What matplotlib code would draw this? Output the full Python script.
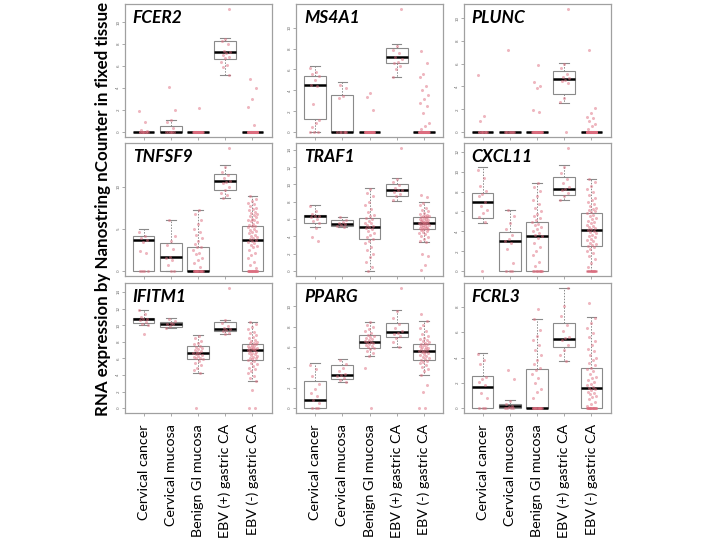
import matplotlib
matplotlib.use('Agg')
import matplotlib.pyplot as plt
import matplotlib.transforms as mtransforms
import numpy as np

categories = ["Cervical cancer", "Cervical mucosa", "Benign GI mucosa",
              "EBV (+) gastric CA", "EBV (-) gastric CA"]
genes = ["FCER2", "MS4A1", "PLUNC", "TNFSF9", "TRAF1", "CXCL11", "IFITM1", "PPARG", "FCRL3"]
ytick_step = [2, 2, 2, 5, 2, 2, 2, 2, 2]

# box stats per group: [whisker low, q1, median, q3, whisker high]
FCER2_box = [[0, 0, 0, 0, 0], [0, 0, 0, 0.58, 1.1], [0, 0, 0, 0, 0],
             [5.23, 6.64, 7.25, 8.26, 8.56], [0, 0, 0, 0, 0]]
FCER2_pts = [
    [1.9, 0.9, 0.2, 0.1] + [0] * 9,
    [4.1, 2.0, 1.1, 0.9, 0.4] + [0] * 6,
    [2.2] + [0] * 30,
    [11.2, 8.5, 8.3, 8.0, 7.4, 7.3, 7.2, 7.0, 6.8, 6.7, 6.4, 6.1, 5.9, 5.2],
    [4.8, 4.0, 3.0, 2.3, 0.6] + [0] * 50,
]
MS4A1_box = [[0, 1.26, 4.47, 5.34, 6.34], [0, 0, 0, 3.56, 4.76], [0, 0, 0, 0, 0],
             [5.24, 6.6, 7.15, 8.03, 8.45], [0, 0, 0, 0, 0]]
MS4A1_pts = [
    [6.1, 5.8, 5.6, 5.4, 5.0, 4.5, 4.4, 2.7, 1.2, 0.9, 0.5, 0, 0, 0],
    [4.5, 4.2, 3.5, 3.3] + [0] * 6,
    [3.7, 3.4, 2.1] + [0] * 30,
    [11.8, 8.2, 7.9, 7.6, 7.2, 7.0, 6.7, 6.6, 6.3, 6.0, 5.3],
    [7.8, 6.6, 5.6, 5.3, 4.4, 4.0, 3.6, 3.2, 2.8, 2.5, 1.8, 0.9, 0.6, 0.3] + [0] * 45,
]
PLUNC_box = [[0, 0, 0, 0, 0], [0, 0, 0, 0, 0], [0, 0, 0, 0, 0],
             [2.58, 3.38, 4.66, 5.34, 6.05], [0, 0, 0, 0, 0]]
PLUNC_pts = [
    [5.0, 1.4, 1.0] + [0] * 10,
    [7.2] + [0] * 9,
    [5.9, 4.4, 4.0, 3.9, 1.9, 1.8] + [0] * 28,
    [10.8, 6.0, 5.6, 5.1, 4.8, 4.7, 4.6, 4.5, 4.3, 3.0, 2.6, 0],
    [7.2, 2.1, 1.7, 1.3, 1.2, 1.0, 0.7, 0.5, 0.3] + [0] * 50,
]
TNFSF9_box = [[0, 0, 3.7, 4.21, 4.96], [0, 0, 1.65, 3.27, 6.02], [0, 0, 0, 2.87, 7.24],
              [8.66, 9.6, 10.63, 11.46, 12.52], [0, 0, 3.66, 5.31, 8.9]]
TNFSF9_pts = [
    [4.6, 4.2, 3.9, 3.7, 3.5, 2.4, 2.1, 0, 0, 0, 0],
    [6.0, 4.1, 3.6, 3.1, 2.6, 1.7, 1.5, 1.3, 0.7, 0, 0],
    [7.2, 6.8, 6.1, 5.6, 5.0, 4.6, 4.3, 3.9, 3.6, 3.2, 2.9, 2.8, 2.5, 2.2, 2.0,
     1.6, 1.3, 0.9, 0.5] + [0] * 14,
    [14.6, 12.3, 11.8, 11.4, 11.0, 10.7, 10.6, 10.4, 10.0, 9.6, 9.3, 9.0, 8.7],
    [8.9, 8.6, 8.3, 8.1, 7.9, 7.7, 7.5, 7.4, 7.2, 7.0, 6.9, 6.8, 6.6, 6.5, 6.4,
     6.2, 6.1, 6.0, 5.9, 5.8, 5.6, 5.5, 5.4, 5.3, 5.2, 5.0, 4.9, 4.7, 4.6, 4.5,
     4.3, 4.2, 4.0, 3.9, 3.8, 3.7, 3.6, 3.5, 3.3, 3.1, 3.0, 2.8, 2.5, 2.2, 1.9,
     1.5, 1.1, 0.7, 0.4] + [0] * 18,
]
TRAF1_box = [[5.04, 5.54, 6.35, 6.5, 7.6], [5.08, 5.23, 5.46, 5.88, 6.23],
             [0, 3.69, 5.12, 6.12, 9.54], [8.12, 8.65, 9.31, 10.08, 10.73],
             [3.38, 4.85, 5.54, 6.19, 7.96]]
TRAF1_pts = [
    [7.5, 6.9, 6.6, 6.4, 6.3, 6.2, 6.0, 5.8, 5.5, 5.0, 3.9, 3.5],
    [6.2, 5.9, 5.7, 5.5, 5.4, 5.3, 5.2, 5.1],
    [9.5, 9.0, 8.6, 8.0, 7.6, 7.2, 6.8, 6.5, 6.3, 6.1, 6.0, 5.8, 5.6, 5.5, 5.3,
     5.2, 5.1, 5.0, 4.8, 4.6, 4.4, 4.2, 3.9, 3.7, 3.5, 3.2, 2.8, 2.4, 2.0, 1.6,
     1.0, 0.5, 0.0],
    [14.2, 10.6, 10.3, 9.9, 9.6, 9.4, 9.3, 9.1, 8.9, 8.6, 8.2],
    [8.8, 8.5, 7.9, 7.6, 7.3, 7.1, 6.9, 6.7, 6.6, 6.5, 6.4, 6.3, 6.3, 6.2, 6.2,
     6.1, 6.0, 6.0, 5.9, 5.9, 5.8, 5.8, 5.7, 5.7, 5.6, 5.6, 5.5, 5.5, 5.5, 5.4,
     5.4, 5.3, 5.3, 5.2, 5.2, 5.1, 5.1, 5.0, 5.0, 4.9, 4.9, 4.8, 4.7, 4.6, 4.5,
     4.4, 4.3, 4.1, 3.9, 3.7, 3.5, 3.4, 2.0, 1.7, 0.7, 0.1],
]
CXCL11_box = [[4.86, 5.37, 6.96, 7.9, 10.44], [0, 0, 3.07, 3.95, 6.11],
              [0, 0, 3.51, 4.97, 8.88], [7.16, 7.64, 8.31, 9.46, 10.7],
              [0, 2.5, 4.16, 5.88, 9.32]]
CXCL11_pts = [
    [10.2, 9.4, 8.6, 8.1, 7.8, 7.6, 7.0, 6.6, 6.2, 5.8, 5.4, 4.9, 0],
    [6.1, 5.5, 4.8, 4.2, 3.6, 3.2, 3.0, 2.8, 2.2, 0.8, 0, 0, 0],
    [8.9, 8.5, 8.1, 7.6, 7.2, 6.8, 6.4, 6.0, 5.7, 5.5, 5.3, 5.1, 4.9, 4.7, 4.6,
     4.4, 4.2, 4.0, 3.8, 3.6, 3.5, 3.3, 2.8, 2.4, 2.0, 1.6, 0.9, 0.5] + [0] * 9,
    [12.4, 10.5, 9.9, 9.3, 8.9, 8.5, 8.3, 8.2, 7.9, 7.6, 7.2],
    [9.3, 9.0, 8.6, 8.3, 8.0, 7.7, 7.4, 7.2, 7.0, 6.8, 6.6, 6.4, 6.3, 6.1, 6.0,
     5.9, 5.8, 5.6, 5.5, 5.3, 5.2, 5.0, 4.9, 4.8, 4.6, 4.5, 4.4, 4.3, 4.2, 4.1,
     4.0, 3.9, 3.8, 3.6, 3.5, 3.4, 3.2, 3.1, 3.0, 2.8, 2.7, 2.6, 2.5, 2.4, 2.2,
     2.0, 1.8, 1.5, 1.2, 0.8, 0.4] + [0] * 12,
]
IFITM1_box = [[10.0, 10.24, 10.72, 10.92, 11.88], [9.64, 9.72, 10.2, 10.36, 10.88],
              [4.2, 5.96, 6.64, 7.44, 8.76], [8.88, 9.28, 9.52, 10.44, 10.68],
              [3.28, 5.76, 7.04, 7.72, 10.4]]
IFITM1_pts = [
    [11.8, 11.3, 11.0, 10.8, 10.7, 10.6, 10.4, 10.2, 10.0, 8.9],
    [10.8, 10.5, 10.3, 10.2, 10.1, 9.9, 9.7],
    [8.7, 8.4, 8.1, 7.9, 7.7, 7.5, 7.4, 7.3, 7.1, 7.0, 6.9, 6.8, 6.7, 6.6, 6.5,
     6.4, 6.3, 6.2, 6.1, 6.0, 5.9, 5.7, 5.5, 5.2, 4.9, 4.6, 4.2, 0.0],
    [14.5, 10.6, 10.3, 9.9, 9.6, 9.5, 9.4, 9.3, 9.1, 8.9],
    [10.4, 10.1, 9.8, 9.5, 9.2, 9.0, 8.8, 8.6, 8.4, 8.2, 8.1, 8.0, 7.9, 7.8, 7.7,
     7.6, 7.5, 7.5, 7.4, 7.3, 7.3, 7.2, 7.1, 7.1, 7.0, 7.0, 6.9, 6.8, 6.7, 6.6,
     6.5, 6.4, 6.3, 6.2, 6.1, 6.0, 5.9, 5.8, 5.7, 5.5, 5.3, 5.1, 4.9, 4.7, 4.5,
     4.2, 3.9, 3.6, 3.3, 2.2, 0.0, 0.0],
]
PPARG_box = [[0, 0, 0.77, 2.65, 4.42], [2.55, 2.9, 3.29, 4.26, 4.8],
             [5.13, 5.9, 6.52, 7.19, 8.42], [5.97, 6.97, 7.42, 8.32, 9.65],
             [3.29, 4.68, 5.58, 6.32, 8.52]]
PPARG_pts = [
    [4.2, 3.8, 3.2, 2.4, 1.9, 1.5, 1.2, 0.8, 0.5, 0, 0, 0],
    [4.7, 4.3, 3.9, 3.6, 3.4, 3.3, 3.2, 3.0, 2.8, 2.6],
    [8.4, 8.2, 8.0, 7.8, 7.6, 7.4, 7.2, 7.1, 7.0, 6.9, 6.8, 6.7, 6.6, 6.5, 6.5,
     6.4, 6.3, 6.2, 6.1, 6.0, 5.9, 5.8, 5.6, 5.4, 5.1, 3.9, 0.0],
    [11.8, 9.5, 8.8, 8.3, 7.9, 7.6, 7.4, 7.3, 7.1, 6.9, 6.5, 6.0],
    [9.2, 8.5, 8.2, 7.9, 7.6, 7.3, 7.1, 6.9, 6.8, 6.7, 6.6, 6.5, 6.4, 6.3, 6.3,
     6.2, 6.1, 6.0, 6.0, 5.9, 5.8, 5.8, 5.7, 5.6, 5.6, 5.5, 5.5, 5.4, 5.3, 5.2,
     5.1, 5.0, 4.9, 4.8, 4.7, 4.6, 4.5, 4.4, 4.2, 4.0, 3.8, 3.6, 3.3, 2.3, 1.6,
     0.0, 0.0],
]
FCRL3_box = [[0, 0, 1.71, 2.52, 4.36], [0, 0, 0.2, 0.31, 0.62], [0, 0, 0, 3.06, 7.0],
             [3.71, 4.8, 5.48, 6.73, 9.5], [0, 0, 1.56, 3.19, 7.17]]
FCRL3_pts = [
    [4.3, 3.8, 3.5, 2.5, 2.3, 2.1, 1.8, 1.2, 0.8, 0, 0, 0],
    [3.0, 2.3, 0.6, 0.3, 0.2, 0.1, 0, 0, 0, 0],
    [7.8, 7.0, 6.2, 5.7, 5.4, 5.0, 4.6, 4.2, 3.8, 3.5, 3.2, 3.0, 2.7, 2.4, 2.0,
     1.5, 1.3, 0.8] + [0] * 14,
    [9.5, 8.1, 7.3, 6.6, 6.1, 5.6, 5.5, 5.4, 5.0, 4.6, 4.2, 3.7],
    [8.3, 7.1, 6.7, 6.3, 5.9, 5.6, 5.3, 5.0, 4.7, 4.5, 4.2, 4.0, 3.8, 3.6, 3.4,
     3.2, 3.1, 2.9, 2.7, 2.5, 2.4, 2.2, 2.1, 1.9, 1.8, 1.7, 1.6, 1.5, 1.4, 1.3,
     1.2, 1.1, 1.0, 0.9, 0.7, 0.5, 0.3, 0.2] + [0] * 16,
]

box_sets = [FCER2_box, MS4A1_box, PLUNC_box, TNFSF9_box, TRAF1_box,
            CXCL11_box, IFITM1_box, PPARG_box, FCRL3_box]
pt_sets = [FCER2_pts, MS4A1_pts, PLUNC_pts, TNFSF9_pts, TRAF1_pts,
           CXCL11_pts, IFITM1_pts, PPARG_pts, FCRL3_pts]

W, H = 720, 540
fig = plt.figure(figsize=(W / 100, H / 100), dpi=100)

col_left = [124.5, 296, 463.5]
col_w = 147
rows = [(4, 137), (143, 276), (283, 413)]

FONT = ['Lato', 'DejaVu Sans']
PT_COLOR = '#DE6E80'
GRAY = '#8a8a8a'

for k, gene in enumerate(genes):
    r, c = divmod(k, 3)
    top, bot = rows[r]
    ax = fig.add_axes([col_left[c] / W, 1 - bot / H, col_w / W, (bot - top) / H])
    stats = []
    for g in range(5):
        lo, q1, med, q3, hi = box_sets[k][g]
        stats.append(dict(whislo=lo, q1=q1, med=med, q3=q3, whishi=hi, fliers=[]))
    ax.bxp(stats, positions=np.arange(1, 6), widths=0.8, patch_artist=True,
           showfliers=False, capwidths=0.35,
           boxprops=dict(facecolor='white', edgecolor=GRAY, linewidth=0.8),
           medianprops=dict(color='black', linewidth=1.8),
           whiskerprops=dict(color=GRAY, linewidth=0.7, linestyle=(0, (1.5, 1.5))),
           capprops=dict(color=GRAY, linewidth=0.8), zorder=2)
    ymax = 0
    for g in range(5):
        vals = np.asarray(pt_sets[k][g], dtype=float)
        n = len(vals)
        offs = (((np.arange(n) * 0.618034 + 0.3 * g) % 1.0) - 0.5) * 0.36
        ax.plot(g + 1 + offs, vals, 'o', ms=2.2, mew=0, color=PT_COLOR,
                alpha=0.5, zorder=3)
        ymax = max(ymax, vals.max(), max(box_sets[k][g]))
    pad = 0.04 * ymax
    ax.set_ylim(-pad, ymax + pad)
    ax.set_xlim(0.3, 5.7)
    step = ytick_step[k]
    ax.set_yticks(np.arange(0, ymax + 0.01, step))
    ax.set_yticklabels([str(int(v)) for v in np.arange(0, ymax + 0.01, step)],
                       rotation=90, va='center', fontsize=3, color='#666666')
    ax.set_xticks(np.arange(1, 6))
    ax.set_xticklabels([])
    ax.tick_params(length=2, width=0.5, color='#888888', pad=1)
    for s in ax.spines.values():
        s.set_color('#a0a0a0')
        s.set_linewidth(0.9)
    ax.text(0.055, 0.955, gene, transform=ax.transAxes, fontsize=12.5,
            fontweight='bold', style='italic', family=FONT, va='top', ha='left')
    if r == 2:
        tr = mtransforms.blended_transform_factory(ax.transData, fig.transFigure)
        for g, cat in enumerate(categories):
            ax.text(g + 1, 1 - 424 / H, cat, transform=tr, rotation=90,
                    ha='center', va='top', fontsize=10.3, family=FONT)

fig.text(103 / W, 1 - 209 / H, "RNA expression by Nanostring nCounter in fixed tissue",
         rotation=90, ha='center', va='center', fontsize=12.2, fontweight='bold',
         family=FONT)

fig.savefig('out.png', dpi=100)
